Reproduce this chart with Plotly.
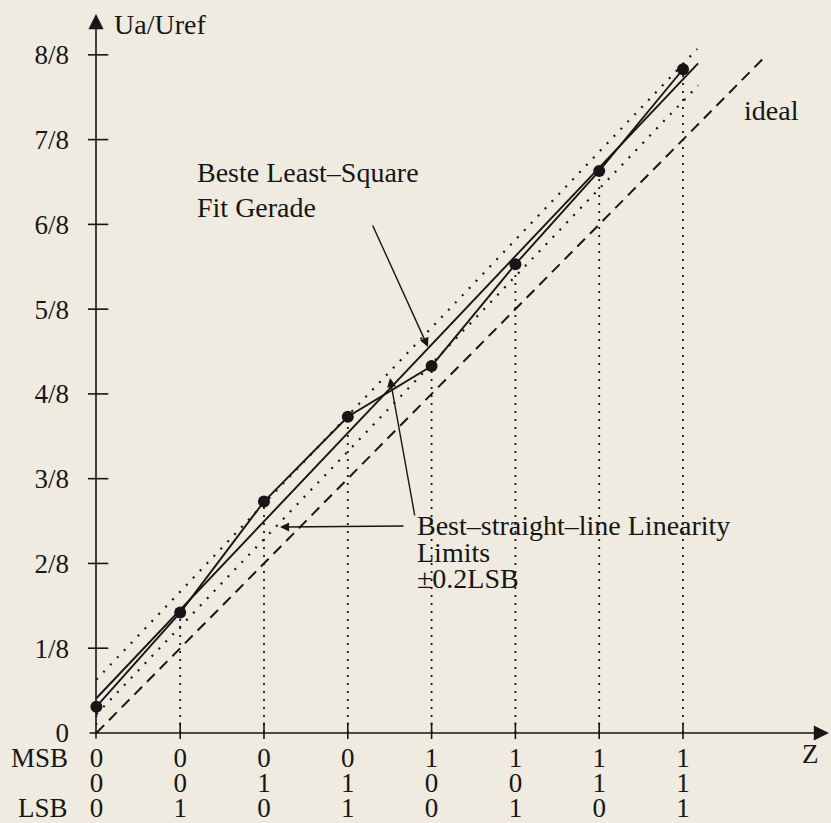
import plotly.graph_objects as go

# ---------------- data (units: LSB = 1/8 Uref) -------------
codes = [0, 1, 2, 3, 4, 5, 6, 7]
values = [0.31, 1.42, 2.73, 3.73, 4.33, 5.53, 6.63, 7.83]
msb_row = ["0", "0", "0", "0", "1", "1", "1", "1"]
mid_row = ["0", "0", "1", "1", "0", "0", "1", "1"]
lsb_row = ["0", "1", "0", "1", "0", "1", "0", "1"]
y_tickvals = [0, 1, 2, 3, 4, 5, 6, 7, 8]
y_ticktext = ["0", "1/8", "2/8", "3/8", "4/8", "5/8", "6/8", "7/8", "8/8"]

fit_x = [0, 7.18]
fit_y = [0.41, 7.90]
upper_x = [0, 7.17]
upper_y = [0.63, 8.07]
lower_x = [0, 7.18]
lower_y = [0.22, 7.64]
ideal_x = [0, 8.0]
ideal_y = [0, 8.0]

# ---------------- layout geometry ----------------
W, H = 831, 823
ML, MR, MT, MB = 88, 3, 15, 84
XR = [-0.1, 8.73]
YR = [-0.071, 8.47]
PW, PH = W - ML - MR, H - MT - MB
pxx = PW / (XR[1] - XR[0])
pxy = PH / (YR[1] - YR[0])


def X(px):
    return XR[0] + (px - ML) / pxx


def Y(py):
    return YR[1] - (py - MT) / pxy


def PX(px):
    return (px - ML) / PW


def PY(py):
    return 1 - (py - MT) / PH


INK = "#161616"
BG = "#efebe0"
FONT = dict(family="Liberation Serif, Times New Roman, serif", size=27, color=INK)
TFONT = dict(family="Liberation Serif, Times New Roman, serif", size=28, color=INK)

fig = go.Figure()

# ideal line (dashed)
fig.add_trace(go.Scatter(x=ideal_x, y=ideal_y, mode="lines",
                         line=dict(color=INK, width=2, dash="11px,7px"),
                         hoverinfo="skip", showlegend=False))
# linearity limits (dotted)
for lx, ly in ((upper_x, upper_y), (lower_x, lower_y)):
    fig.add_trace(go.Scatter(x=lx, y=ly, mode="lines",
                             line=dict(color=INK, width=2.2, dash="2px,8px"),
                             hoverinfo="skip", showlegend=False))
# drop lines from each point to the axis
dx, dy = [], []
for c, v in zip(codes, values):
    dx += [c, c, None]
    dy += [0, v, None]
fig.add_trace(go.Scatter(x=dx, y=dy, mode="lines",
                         line=dict(color=INK, width=1.8, dash="2px,6px"),
                         hoverinfo="skip", showlegend=False))
# least square fit line
fig.add_trace(go.Scatter(x=fit_x, y=fit_y, mode="lines",
                         line=dict(color=INK, width=1.9),
                         hoverinfo="skip", showlegend=False))
# measured characteristic
fig.add_trace(go.Scatter(x=codes, y=values, mode="lines+markers",
                         line=dict(color=INK, width=1.9),
                         marker=dict(color=INK, size=12),
                         showlegend=False))
# tick marks crossing the axes
fig.add_trace(go.Scatter(x=[0] * (len(y_tickvals) - 1), y=y_tickvals[1:], mode="markers",
                         marker=dict(symbol="line-ew", size=17, line=dict(color=INK, width=1.6)),
                         hoverinfo="skip", showlegend=False))
fig.add_trace(go.Scatter(x=codes[1:], y=[0] * (len(codes) - 1), mode="markers",
                         marker=dict(symbol="line-ns", size=15, line=dict(color=INK, width=1.6)),
                         hoverinfo="skip", showlegend=False))
# invisible traces to activate the extra bit-row axes
for ax in ("x2", "x3"):
    fig.add_trace(go.Scatter(x=[0], y=[0], xaxis=ax, yaxis="y", mode="markers",
                             marker=dict(opacity=0), hoverinfo="skip", showlegend=False))

common_x = dict(range=XR, showgrid=False, zeroline=False, showline=False, ticks="",
                tickvals=codes, tickfont=FONT, fixedrange=True, automargin=False)
fig.update_layout(
    template="none",
    width=W, height=H,
    margin=dict(l=ML, r=MR, t=MT, b=MB, autoexpand=False),
    paper_bgcolor=BG, plot_bgcolor=BG,
    font=FONT,
    xaxis=dict(**common_x, ticktext=msb_row, ticklabelstandoff=0),
    xaxis2=dict(**common_x, ticktext=mid_row, overlaying="x", anchor="y", side="bottom",
                ticklabelstandoff=25),
    xaxis3=dict(**common_x, ticktext=lsb_row, overlaying="x", anchor="y", side="bottom",
                ticklabelstandoff=50),
    yaxis=dict(range=YR, showgrid=False, zeroline=False, showline=False, ticks="",
               tickvals=y_tickvals, ticktext=y_ticktext, tickfont=FONT,
               ticklabelstandoff=18, fixedrange=True, automargin=False),
)

ann = []
# axes with arrow heads (paper coordinates, tails given as pixel offsets)
ann.append(dict(x=PX(96), y=PY(14), xref="paper", yref="paper", ax=0, ay=740 - 14,
                text="", showarrow=True, arrowhead=2, arrowsize=1.9, arrowwidth=1.6,
                arrowcolor=INK, standoff=0))
ann.append(dict(x=PX(829), y=PY(733), xref="paper", yref="paper", ax=88 - 829, ay=0,
                text="", showarrow=True, arrowhead=2, arrowsize=1.9, arrowwidth=1.6,
                arrowcolor=INK, standoff=0))
# pointer arrows
pointer_arrows = [((372, 224), (428, 347)), ((415, 517), (390, 378)), ((405, 526), (280, 527))]
for (tx, ty), (hx, hy) in pointer_arrows:
    ann.append(dict(x=X(hx), y=Y(hy), ax=X(tx), ay=Y(ty), xref="x", yref="y",
                    axref="x", ayref="y", text="", showarrow=True, arrowhead=2,
                    arrowsize=1.3, arrowwidth=1.4, arrowcolor=INK, standoff=0))

texts = [
    ("Ua/Uref", 112, 24, "left", TFONT),
    ("Beste Least–Square", 195, 173, "left", TFONT),
    ("Fit Gerade", 195, 207, "left", TFONT),
    ("Best–straight–line Linearity", 415, 525, "left", TFONT),
    ("Limits", 415, 552, "left", TFONT),
    ("±0.2LSB", 415, 578, "left", TFONT),
    ("ideal", 742, 110, "left", TFONT),
    ("Z", 810, 754, "center", FONT),
    ("MSB", 70, 758, "right", FONT),
    ("LSB", 70, 808, "right", FONT),
]
for t, px, py, anchor, f in texts:
    ann.append(dict(x=PX(px), y=PY(py), xref="paper", yref="paper", text=t, showarrow=False,
                    xanchor=anchor, yanchor="middle", align="left", font=f))

fig.update_layout(annotations=ann)
fig.write_html(
    "out.html",
    config={"displayModeBar": False, "staticPlot": True},
    post_script=("document.body.style.margin='0';"
                 "document.body.style.background='#efebe0';"
                 "document.body.style.overflow='hidden';"),
)
